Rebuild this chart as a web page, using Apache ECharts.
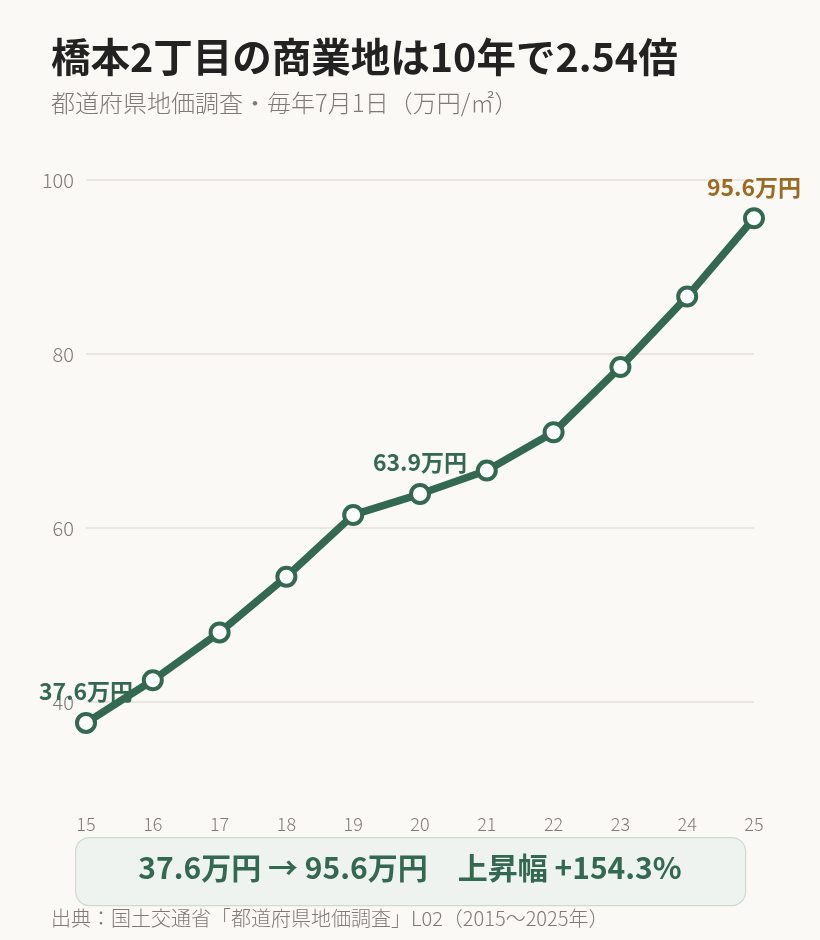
<!DOCTYPE html>
<html><head><meta charset="utf-8">
<script src="https://cdn.jsdelivr.net/npm/echarts@6/dist/echarts.min.js"></script>
<style>html,body{margin:0;padding:0;background:#faf9f5;}#c{width:820px;height:940px;}</style>
</head><body><div id="c"></div>
<script>
const years = ['15','16','17','18','19','20','21','22','23','24','25'];
const prices = [37.6, 42.5, 48.0, 54.4, 61.5, 63.9, 66.6, 71.0, 78.5, 86.6, 95.6];
const labeledIdx = [0, 5, 10];
const yTicks = [40, 60, 80, 100];
const titleText = '橋本2丁目の商業地は10年で2.54倍';
const subText = '都道府県地価調査・毎年7月1日（万円/㎡）';
const sourceText = '出典：国土交通省「都道府県地価調査」L02（2015〜2025年）';

const GREEN = '#336950';
const BROWN = '#9c6a22';
const GRAY = '#7f7a75';
const FONT = '"Noto Sans CJK JP","Noto Sans",sans-serif';

const first = prices[0], last = prices[prices.length - 1];
const pct = ((last / first - 1) * 100).toFixed(1);
const summary = first.toFixed(1) + '万円 → ' + last.toFixed(1) + '万円　上昇幅 +' + pct + '%';

const seriesData = prices.map((v, i) => {
  if (labeledIdx.indexOf(i) < 0) return v;
  return {
    value: v,
    label: {
      show: true, position: 'top', distance: 9,
      formatter: v.toFixed(1) + '万円',
      color: i === prices.length - 1 ? BROWN : GREEN,
      fontSize: 23, fontWeight: 'bold', fontFamily: FONT
    }
  };
});

const chart = echarts.init(document.getElementById('c'));
chart.setOption({
  animation: false,
  backgroundColor: '#faf9f5',
  textStyle: { fontFamily: FONT },
  grid: { left: 86, right: 66, top: 180, bottom: 238 },
  xAxis: {
    type: 'category', data: years, boundaryGap: false,
    axisLine: { show: false }, axisTick: { show: false },
    axisLabel: { margin: 113, fontSize: 18, fontWeight: 300, color: GRAY, fontFamily: FONT }
  },
  yAxis: {
    type: 'value', min: yTicks[0], max: yTicks[yTicks.length - 1], interval: yTicks[1] - yTicks[0],
    axisLine: { show: false }, axisTick: { show: false },
    axisLabel: { margin: 12, fontSize: 20, fontWeight: 300, color: GRAY, fontFamily: FONT },
    splitLine: { lineStyle: { color: '#e5e0d9', width: 1.5 } }
  },
  series: [{
    type: 'line', data: seriesData, clip: false,
    symbol: 'circle', symbolSize: 18,
    lineStyle: { color: GREEN, width: 7.5 },
    itemStyle: { color: '#ffffff', borderColor: GREEN, borderWidth: 4 },
    z: 3
  }],
  graphic: [
    {
      type: 'text', left: 51, top: 37, z: 11,
      style: { text: titleText, fill: '#222222', fontSize: 39.5, fontWeight: 'bold', fontFamily: FONT }
    },
    {
      type: 'text', left: 51, top: 91, z: 11,
      style: { text: subText, fill: GRAY, fontSize: 24, fontWeight: 300, fontFamily: FONT }
    },
    {
      type: 'rect', left: 75, top: 837, z: 10,
      shape: { width: 670, height: 68, r: 14 },
      style: { fill: '#eef3ef', stroke: '#cfd9d2', lineWidth: 1.2 }
    },
    {
      type: 'text', left: 'center', top: 853, z: 11,
      style: { text: summary, fill: GREEN, fontSize: 30, fontWeight: 'bold', fontFamily: FONT }
    },
    {
      type: 'text', left: 51, top: 908, z: 11,
      style: { text: sourceText, fill: GRAY, fontSize: 20, fontWeight: 300, fontFamily: FONT }
    }
  ]
});
</script></body></html>
